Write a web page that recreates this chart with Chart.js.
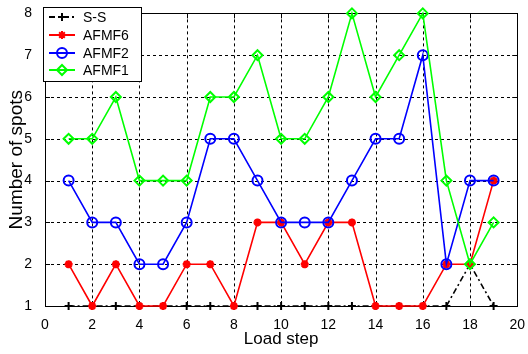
<!DOCTYPE html>
<html>
<head>
<meta charset="utf-8">
<script src="https://cdn.jsdelivr.net/npm/chart.js@4"></script>
<style>
  html, body { margin: 0; padding: 0; background: #fff; }
  #wrap { width: 528px; height: 354px; }
</style>
</head>
<body>
<div id="wrap"><canvas id="c" width="528" height="354"></canvas></div>
<script>
// Load steps and spot counts per series
const loadSteps = [1, 2, 3, 4, 5, 6, 7, 8, 9, 10, 11, 12, 13, 14, 15, 16, 17, 18, 19];
const ss     = [1, 1, 1, 1, 1, 1, 1, 1, 1, 1, 1, 1, 1, 1, 1, 1, 1, 2, 1];
const afmf6  = [2, 1, 2, 1, 1, 2, 2, 1, 3, 3, 2, 3, 3, 1, 1, 1, 2, 2, 4];
const afmf2  = [4, 3, 3, 2, 2, 3, 5, 5, 4, 3, 3, 3, 4, 5, 5, 7, 2, 4, 4];
const afmf1  = [5, 5, 6, 4, 4, 4, 6, 6, 7, 5, 5, 6, 8, 6, 7, 8, 4, 2, 3];
const xTicks = [0, 2, 4, 6, 8, 10, 12, 14, 16, 18, 20];
const yTicks = [1, 2, 3, 4, 5, 6, 7, 8];

const FONT = '"Liberation Sans", Arial, sans-serif';
const pts = arr => loadSteps.map((x, i) => ({ x: x, y: arr[i] }));

const seriesDefs = [
  { label: 'S-S',   data: ss,    color: '#000000', style: 'cross',   radius: 4, dash: [6, 3, 2, 3], order: 3 },
  { label: 'AFMF6', data: afmf6, color: '#ff0000', style: 'star',    radius: 4, dash: [],           order: 2 },
  { label: 'AFMF2', data: afmf2, color: '#0000ff', style: 'circle',  radius: 5, dash: [],           order: 1 },
  { label: 'AFMF1', data: afmf1, color: '#00ff00', style: 'rectRot', radius: 5, dash: [],           order: 0 }
];

// Dashed grid, frame box and inward tick marks under the data
const framePlugin = {
  id: 'frame',
  beforeDatasetsDraw(chart) {
    const { ctx, chartArea: a, scales } = chart;
    ctx.save();
    ctx.strokeStyle = '#000';
    ctx.lineWidth = 1;
    ctx.setLineDash([3, 3]);
    xTicks.slice(1, -1).forEach(v => {
      const x = Math.round(scales.x.getPixelForValue(v)) + 0.5;
      ctx.beginPath(); ctx.moveTo(x, a.top); ctx.lineTo(x, a.bottom); ctx.stroke();
    });
    yTicks.slice(1, -1).forEach(v => {
      const y = Math.round(scales.y.getPixelForValue(v)) + 0.5;
      ctx.beginPath(); ctx.moveTo(a.left, y); ctx.lineTo(a.right, y); ctx.stroke();
    });
    ctx.setLineDash([]);
    ctx.strokeRect(Math.round(a.left) + 0.5, Math.round(a.top) + 0.5,
                   Math.round(a.right - a.left), Math.round(a.bottom - a.top));
    xTicks.forEach(v => {
      const x = Math.round(scales.x.getPixelForValue(v)) + 0.5;
      ctx.beginPath();
      ctx.moveTo(x, a.bottom); ctx.lineTo(x, a.bottom - 5);
      ctx.moveTo(x, a.top); ctx.lineTo(x, a.top + 5);
      ctx.stroke();
    });
    yTicks.forEach(v => {
      const y = Math.round(scales.y.getPixelForValue(v)) + 0.5;
      ctx.beginPath();
      ctx.moveTo(a.left, y); ctx.lineTo(a.left + 5, y);
      ctx.moveTo(a.right, y); ctx.lineTo(a.right - 5, y);
      ctx.stroke();
    });
    ctx.restore();
  },
  // legend box in the upper-left corner
  afterDatasetsDraw(chart) {
    const { ctx } = chart;
    ctx.save();
    const bx = 43.5, by = 7.5, bw = 98, bh = 74;
    ctx.fillStyle = '#fff';
    ctx.fillRect(bx, by, bw, bh);
    ctx.strokeStyle = '#000';
    ctx.lineWidth = 1;
    ctx.strokeRect(bx, by, bw, bh);
    ctx.font = '14px ' + FONT;
    ctx.textBaseline = 'middle';
    ctx.textAlign = 'left';
    const rowsY = [17, 35, 53, 70];
    chart.data.datasets.forEach((ds, i) => {
      const y = rowsY[i];
      ctx.strokeStyle = ds.borderColor;
      ctx.lineWidth = 2;
      ctx.setLineDash(ds.borderDash || []);
      ctx.beginPath();
      ctx.moveTo(49, y); ctx.lineTo(75, y);
      ctx.stroke();
      ctx.setLineDash([]);
      ctx.fillStyle = ds.pointBackgroundColor;
      Chart.helpers.drawPoint(ctx, {
        pointStyle: ds.pointStyle, radius: ds.pointRadius, rotation: 0,
        borderWidth: ds.pointBorderWidth
      }, 62, y);
      ctx.fillStyle = '#000';
      ctx.fillText(ds.label, 83, y + 1);
    });
    ctx.restore();
  }
};

new Chart(document.getElementById('c'), {
  type: 'line',
  data: {
    datasets: seriesDefs.map(s => ({
      label: s.label,
      data: pts(s.data),
      borderColor: s.color,
      backgroundColor: s.style === 'star' ? s.color : 'rgba(0,0,0,0)',
      borderWidth: 1.6,
      borderDash: s.dash,
      pointStyle: s.style,
      pointRadius: s.radius,
      pointBorderWidth: s.style === 'star' ? 2.5 : 2,
      pointBorderColor: s.color,
      pointBackgroundColor: s.style === 'star' ? s.color : 'rgba(0,0,0,0)',
      tension: 0,
      fill: false,
      clip: 10,
      order: s.order
    }))
  },
  options: {
    responsive: false,
    animation: false,
    devicePixelRatio: 1,
    layout: { padding: { top: 10, right: 5, left: 0, bottom: 0 } },
    plugins: { legend: { display: false }, tooltip: { enabled: false } },
    scales: {
      x: {
        type: 'linear', min: 0, max: 20,
        afterBuildTicks: sc => { sc.ticks = xTicks.map(v => ({ value: v })); },
        afterFit: sc => { sc.height = 48; },
        grid: { display: false },
        border: { display: false },
        ticks: { color: '#000', font: { family: FONT, size: 14 }, padding: 3, maxRotation: 0 },
        title: { display: true, text: 'Load step', color: '#000', font: { family: FONT, size: 17 }, padding: { top: 0, bottom: 4 } }
      },
      y: {
        type: 'linear', min: 1, max: 8,
        afterBuildTicks: sc => { sc.ticks = yTicks.map(v => ({ value: v })); },
        afterFit: sc => { sc.width = 45; },
        grid: { display: false },
        border: { display: false },
        ticks: { color: '#000', font: { family: FONT, size: 14 }, padding: 5 },
        title: { display: true, text: 'Number of spots', color: '#000', font: { family: FONT, size: 19 }, padding: { top: 5, bottom: 0 } }
      }
    }
  },
  plugins: [framePlugin]
});
</script>
</body>
</html>
